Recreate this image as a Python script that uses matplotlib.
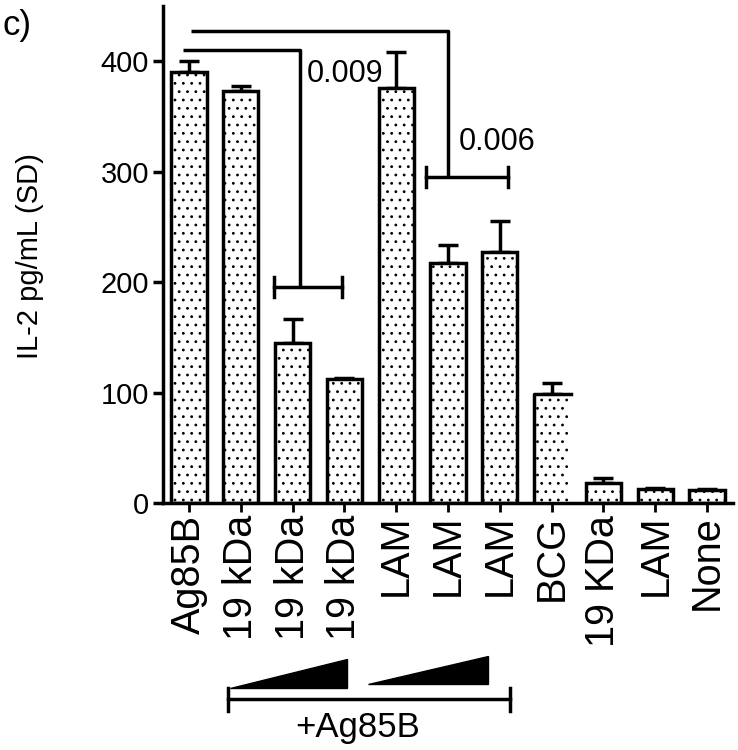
import matplotlib
matplotlib.use('Agg')
import numpy as np
import matplotlib.pyplot as plt
from matplotlib.patches import Polygon

# IL-2 response per stimulus
labels = ['Ag85B', '19 kDa', '19 kDa', '19 kDa', 'LAM', 'LAM', 'LAM',
          'BCG', '19 KDa', 'LAM', 'None']
means = [390, 373, 145, 112, 376, 217, 227, 99, 18, 13, 12]
sds = [10, 5, 22, 1, 32, 17, 28, 10, 5, 1, 1]
yticks = [0, 100, 200, 300, 400]

# significance brackets: (top_y, x_start, x_drop, low_y, low_x0, low_x1, text, tx, ty)
brackets = [
    (410, -0.12, 2.15, 195.5, 1.64, 2.96, '0.009', 2.28, 388),
    (427, 0.04, 5.0, 295, 4.58, 6.16, '0.006', 5.2, 327),
]

plt.rcParams['font.family'] = ['Liberation Sans', 'DejaVu Sans']
plt.rcParams['hatch.linewidth'] = 0.8

W, H = 738, 750
fig = plt.figure(figsize=(W / 100, H / 100), dpi=100)
ax = fig.add_axes([163 / W, 1 - 503 / H, (733 - 163) / W, 497 / H])

def fpx(x, y):
    return (x / W, 1 - y / H)

lw = 2.5
x = np.arange(len(labels))
bars = ax.bar(x, means, width=0.68, color='white', edgecolor='black',
              linewidth=lw, hatch='..', zorder=2)
ax.errorbar(x, means, yerr=[np.zeros(len(sds)), sds], fmt='none',
            ecolor='black', elinewidth=lw, capsize=7, capthick=lw, zorder=1)

# BCG bar drawn without its right edge, as in the original
bcg = bars[7]
bcg.set_linewidth(0)
bx, bw, bh = bcg.get_x(), bcg.get_width(), bcg.get_height()
ax.plot([bx, bx, bx + bw + 0.04], [0, bh, bh], color='black', lw=lw,
        solid_capstyle='projecting', zorder=3)

ax.set_xlim(-0.5, 10.5)
ax.set_ylim(0, 450)
ax.set_yticks(yticks)
ax.set_xticks(x)
ax.set_xticklabels(labels, rotation=90, fontsize=28.5)
ax.tick_params(axis='y', length=7, width=lw, labelsize=21, pad=3)
ax.tick_params(axis='x', length=6.5, width=2, pad=2)
for s in ['top', 'right']:
    ax.spines[s].set_visible(False)
for s in ['left', 'bottom']:
    ax.spines[s].set_linewidth(lw)

for top_y, xs, xd, low_y, lx0, lx1, txt, tx, ty in brackets:
    ax.plot([xs, xd, xd], [top_y, top_y, low_y], color='black', lw=lw,
            clip_on=False, solid_capstyle='butt')
    ax.plot([lx0, lx1], [low_y, low_y], color='black', lw=lw, clip_on=False)
    ax.plot([lx0, lx0], [low_y - 9, low_y + 9], color='black', lw=lw, clip_on=False)
    ax.plot([lx1, lx1], [low_y - 9, low_y + 9], color='black', lw=lw, clip_on=False)
    ax.text(tx, ty, txt, fontsize=22, ha='left', va='center')

fig.text(*fpx(30, 256), 'IL-2 pg/mL (SD)', rotation=90, fontsize=21,
         ha='center', va='center')
fig.text(*fpx(3, 25), 'c)', fontsize=25, ha='left', va='center')

# dose wedges and +Ag85B bracket below the axis
for pts in ([(230, 688), (347, 688), (347, 659)],
            [(368, 684), (488, 684), (488, 656)]):
    fig.add_artist(Polygon([fpx(*p) for p in pts], closed=True,
                           facecolor='black', edgecolor='black',
                           transform=fig.transFigure))
for xs, ys in (([228, 510], [699, 699]), ([228, 228], [688, 711]),
               ([510, 510], [688, 711])):
    p0, p1 = fpx(xs[0], ys[0]), fpx(xs[1], ys[1])
    fig.add_artist(plt.Line2D([p0[0], p1[0]], [p0[1], p1[1]], color='black',
                              lw=lw, transform=fig.transFigure))
fig.text(*fpx(358, 728), '+Ag85B', fontsize=25, ha='center', va='center')

fig.savefig('out.png', dpi=100)
